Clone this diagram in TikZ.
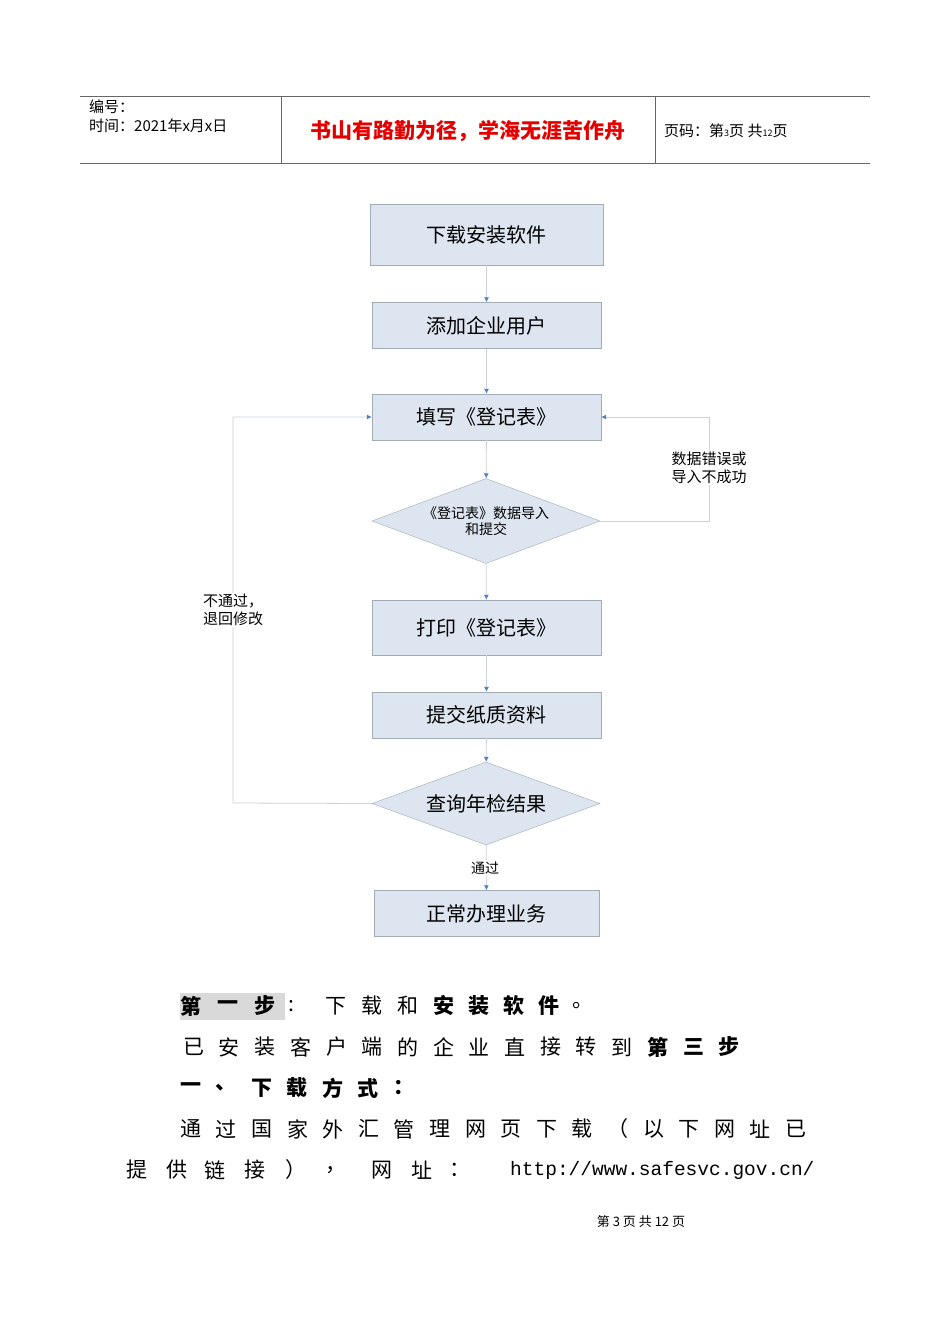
\documentclass[tikz,border=0pt]{standalone}
\usepackage{fontspec}
\setmainfont{Noto Sans CJK SC}
\newfontfamily\urlf{Liberation Mono}
\usetikzlibrary{shapes.geometric,arrows.meta}
\definecolor{fillc}{HTML}{DCE5F0}
\definecolor{bordc}{HTML}{A3ABB5}
\definecolor{linec}{HTML}{C9D2DE}
\definecolor{arrc}{HTML}{4F81BD}
\tikzset{x=1pt,y=-1pt,
 box/.style={draw=bordc,fill=fillc,minimum width=229pt,minimum height=46pt,font=\fontsize{20}{22}\selectfont,inner sep=0pt},
 dia/.style={diamond,draw=bordc,fill=fillc,aspect=2.7,inner sep=0pt},
 conn/.style={draw=linec,line width=0.8pt,-{Latex[length=5pt,width=5pt,color=arrc]}},
 lbl/.style={font=\fontsize{15}{18}\selectfont,align=left},
 body/.style={font=\fontsize{21}{24}\selectfont,anchor=west,inner sep=0pt},
 bbody/.style={body,font=\fontsize{21}{24}\selectfont\bfseries}}
\begin{document}
\begin{tikzpicture}
\useasboundingbox[fill=white] (0,0) rectangle (950,1344);
% header
\draw[gray!80!black,line width=0.8pt] (80,96) -- (870,96) (80,163) -- (870,163) (281,96) -- (281,163) (655,96) -- (655,163);
\node[anchor=west,inner sep=0pt,font=\fontsize{15}{17}\selectfont] (hn) at (89,107) {编号：};
\node[anchor=west,inner sep=0pt,font=\fontsize{15}{17}\selectfont] (ht) at (89,126) {时间：2021年x月x日};
\node[inner sep=0pt,font=\fontsize{21}{23}\selectfont\bfseries,text=red!90!black] (hm) at (468,131) {书山有路勤为径，学海无涯苦作舟};
\node[anchor=west,inner sep=0pt,font=\fontsize{15}{17}\selectfont] (hp) at (664,131) {页码：第{\small 3}页\ 共{\small 12}页};
% flowchart
\node[box,minimum width=233pt,minimum height=61pt] (a) at (486.5,234.5) {下载安装软件};
\node[box] (b) at (486.5,325.5) {添加企业用户};
\node[box] (c) at (486.5,417) {填写《登记表》};
\node[dia,minimum width=228pt,minimum height=85pt,font=\fontsize{14}{16}\selectfont,align=center] (d) at (486,521) {《登记表》数据导入\\和提交};
\node[box,minimum height=55pt] (e) at (486.5,627.5) {打印《登记表》};
\node[box] (f) at (486.5,715) {提交纸质资料};
\node[dia,minimum width=228pt,minimum height=83pt,font=\fontsize{20}{22}\selectfont] (g) at (486,803.5) {查询年检结果};
\node[box,minimum width=225pt] (h) at (486.5,913.5) {正常办理业务};
\draw[conn] (a) -- (b);
\draw[conn] (b) -- (c);
\draw[conn] (c) -- (d);
\draw[conn] (d) -- (e);
\draw[conn] (e) -- (f);
\draw[conn] (f) -- (g);
\draw[conn] (g) -- (h);
\coordinate (rr) at (709,521);
\coordinate (ll) at (233,803);
\draw[conn] (d.east) -- (rr) |- (c.east);
\draw[conn] (g.west) -- (ll) |- (c.west);
\node[lbl,fill=white,inner sep=1pt] (l1) at (709,468) {数据错误或\\导入不成功};
\node[lbl,fill=white,inner sep=1pt] (l2) at (233,610) {不通过，\\退回修改};
\node[font=\fontsize{14}{16}\selectfont,fill=white,inner sep=1pt] (l3) at (485,868) {通过};
% body text
\fill[gray!30] (180,993) rectangle (285,1020);
\foreach \c [count=\i from 0] in {第,一,步}
  \node[bbody] (s1\i) at (180+\i*37,1006) {\c};
\node[body] (colon) at (288,1006) {:};
\foreach \c [count=\i from 0] in {下,载,和}
  \node[body] (s2\i) at (325+\i*36,1006) {\c};
\foreach \c [count=\i from 0] in {安,装,软,件}
  \node[bbody] (s3\i) at (433+\i*35,1006) {\c};
\node[body] (dot) at (572,1006) {。};
\foreach \c [count=\i from 0] in {已,安,装,客,户,端,的,企,业,直,接,转,到}
  \node[body] (t\i) at (183+\i*35.7,1047) {\c};
\foreach \c [count=\i from 13] in {第,三,步}
  \node[bbody] (t\i) at (183+\i*35.7,1047) {\c};
\foreach \c [count=\i from 0] in {一,、,下,载,方,式,：}
  \node[bbody] (u\i) at (180+\i*35.5,1088) {\c};
\foreach \c [count=\i from 0] in {通,过,国,家,外,汇,管,理,网,页,下,载,（,以,下,网,址,已}
  \node[body] (v\i) at (180+\i*35.6,1129) {\c};
\foreach \c/\x [count=\i] in {提/126,供/166,链/204,接/244,）/285,，/325,网/371,址/411,：/449}
  \node[body] (w\i) at (\x,1170) {\c};
\node[body,font=\urlf\fontsize{19.5}{22}\selectfont] (url) at (510,1170) {http://www.safesvc.gov.cn/};
\node[font=\fontsize{13}{15}\selectfont] (foot) at (641,1222) {第\ 3\ 页\ 共\ 12\ 页};
\end{tikzpicture}
\end{document}
